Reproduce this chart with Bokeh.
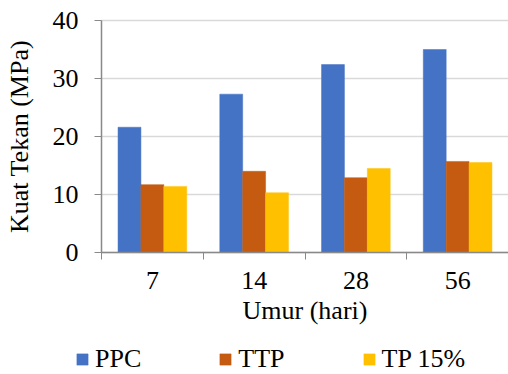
from bokeh.plotting import figure
from bokeh.models import (FixedTicker, Legend, LegendItem, ColumnDataSource, Range1d,
                          LinearAxis)
from bokeh.embed import file_html
from bokeh.resources import INLINE
from bokeh.transform import dodge

categories = ["7", "14", "28", "56"]
series_names = ["PPC", "TTP", "TP 15%"]
ppc = [21.6, 27.3, 32.4, 35.0]
ttp = [11.7, 14.0, 12.9, 15.7]
tp15 = [11.4, 10.3, 14.5, 15.5]
colors = ["#4472C4", "#C55A11", "#FFC000"]
y_ticks = [0, 10, 20, 30, 40]

FONT = "Liberation Serif"
FS = "26px"

W, H = 508, 374
PLOT_L, PLOT_T, PLOT_B = 101, 20, 252   # pixel box of the value area
n = len(categories)
YMAX = 40.0
# ranges chosen so the value area sits at the pixel box above while the frame fills the canvas
x0 = -n * PLOT_L / (W - PLOT_L)
ppu = (PLOT_B - PLOT_T) / YMAX
y1 = YMAX + PLOT_T / ppu
y0 = -(H - PLOT_B) / ppu

xpos = [i + 0.5 for i in range(n)]
src = ColumnDataSource(dict(x=xpos, PPC=ppc, TTP=ttp, TP15=tp15))
fields = ["PPC", "TTP", "TP15"]
w = 0.225
offs = [-0.225, 0.0, 0.225]

p = figure(width=W, height=H, x_range=Range1d(x0, n), y_range=Range1d(y0, y1),
           output_backend="svg", toolbar_location=None,
           x_axis_type=None, y_axis_type=None,
           min_border=0, min_border_left=0, min_border_top=0, min_border_right=0,
           min_border_bottom=0)
p.outline_line_color = None
p.background_fill_color = "white"
p.border_fill_color = "white"
p.grid.visible = False

# horizontal gridlines
p.segment(x0=[0] * len(y_ticks), x1=[n] * len(y_ticks), y0=y_ticks, y1=y_ticks,
          line_color="#D9D9D9", line_width=1.5)

renderers = []
for f, o, c in zip(fields, offs, colors):
    r = p.vbar(x=dodge("x", o, range=p.x_range), top=f, width=w, source=src,
               fill_color=c, line_color=c, line_width=0.5)
    renderers.append(r)

# x axis
xa = LinearAxis(fixed_location=0, bounds=(0, n))
xa.ticker = FixedTicker(ticks=xpos, minor_ticks=list(range(n + 1)))
xa.major_label_overrides = {x: c for x, c in zip(xpos, categories)}
xa.major_tick_out = 0
xa.major_tick_in = 0
xa.minor_tick_out = 7
xa.minor_tick_in = 0
xa.minor_tick_line_color = "#898989"
xa.axis_line_color = "#898989"
xa.axis_line_width = 1.5
xa.major_label_text_font = FONT
xa.major_label_text_font_size = FS
xa.major_label_text_color = "black"
xa.major_label_standoff = 12
xa.axis_label = "Umur (hari)"
xa.axis_label_text_font = FONT
xa.axis_label_text_font_size = FS
xa.axis_label_text_font_style = "normal"
xa.axis_label_text_color = "black"
xa.axis_label_standoff = 4
p.add_layout(xa, "below")

ya = LinearAxis(fixed_location=0, bounds=(0, YMAX))
ya.ticker = FixedTicker(ticks=y_ticks)
ya.major_tick_out = 7
ya.major_tick_in = 0
ya.minor_tick_line_color = None
ya.major_tick_line_color = "#898989"
ya.axis_line_color = "#898989"
ya.axis_line_width = 1.5
ya.major_label_text_font = FONT
ya.major_label_text_font_size = FS
ya.major_label_text_color = "black"
ya.major_label_standoff = 16
ya.axis_label = "Kuat Tekan (MPa)"
ya.axis_label_text_font = FONT
ya.axis_label_text_font_size = FS
ya.axis_label_text_font_style = "normal"
ya.axis_label_text_color = "black"
ya.axis_label_standoff = 16
p.add_layout(ya, "left")

legend = Legend(items=[LegendItem(label=s, renderers=[r]) for s, r in zip(series_names, renderers)],
                orientation="horizontal", location=(75, 0))
legend.label_text_font = FONT
legend.label_text_font_size = FS
legend.label_text_color = "black"
legend.glyph_width = 14
legend.glyph_height = 14
legend.label_standoff = 6
legend.spacing = 77
legend.padding = 0
legend.margin = 0
legend.border_line_color = None
legend.background_fill_alpha = 0
p.add_layout(legend, "center")

open("out.html", "w").write(file_html(p, INLINE))
